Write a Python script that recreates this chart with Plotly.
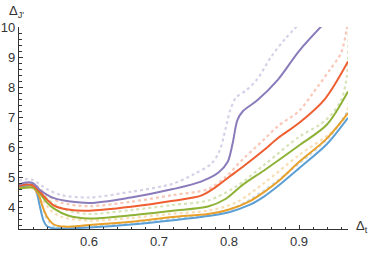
import plotly.graph_objects as go

# ---- data ----
blue_x = [0.5, 0.51, 0.518, 0.525, 0.53, 0.535, 0.54, 0.55, 0.57, 0.6, 0.66, 0.72, 0.77, 0.80, 0.83, 0.85, 0.87, 0.9, 0.94, 0.97]
blue_y = [4.65, 4.72, 4.75, 4.5, 4.0, 3.55, 3.36, 3.29, 3.29, 3.32, 3.42, 3.56, 3.7, 3.83, 4.08, 4.35, 4.7, 5.29, 6.1, 6.97]

orange_x = [0.5, 0.51, 0.52, 0.528, 0.534, 0.54, 0.55, 0.565, 0.6, 0.66, 0.72, 0.77, 0.80, 0.83, 0.85, 0.87, 0.9, 0.94, 0.97]
orange_y = [4.62, 4.65, 4.65, 4.4, 4.0, 3.68, 3.42, 3.35, 3.4, 3.51, 3.67, 3.77, 3.92, 4.2, 4.5, 4.85, 5.5, 6.29, 7.13]

green_x = [0.5, 0.51, 0.52, 0.53, 0.54, 0.55, 0.57, 0.6, 0.66, 0.72, 0.77, 0.795, 0.82, 0.85, 0.9, 0.94, 0.97]
green_y = [4.6, 4.65, 4.65, 4.45, 4.15, 3.95, 3.72, 3.62, 3.73, 3.88, 4.02, 4.27, 4.75, 5.22, 6.05, 6.75, 7.85]

red_x = [0.5, 0.51, 0.52, 0.53, 0.54, 0.55, 0.57, 0.6, 0.66, 0.72, 0.76, 0.78, 0.80, 0.823, 0.85, 0.87, 0.9, 0.937, 0.97]
red_y = [4.7, 4.75, 4.72, 4.5, 4.25, 4.05, 3.92, 3.88, 4.01, 4.21, 4.38, 4.65, 5.0, 5.4, 5.9, 6.3, 6.8, 7.6, 8.85]

purple_x = [0.5, 0.51, 0.52, 0.53, 0.55, 0.6, 0.66, 0.72, 0.76, 0.785, 0.798, 0.805, 0.812, 0.82, 0.84, 0.87, 0.9, 0.935]
purple_y = [4.75, 4.82, 4.8, 4.57, 4.3, 4.14, 4.32, 4.6, 4.85, 5.15, 5.5, 6.1, 6.9, 7.2, 7.55, 8.25, 9.2, 10.1]

blue_d_x = [0.5, 0.51, 0.52, 0.53, 0.54, 0.55, 0.6, 0.66, 0.72, 0.77, 0.81, 0.85, 0.9, 0.944, 0.97]
blue_d_y = [4.7, 4.75, 4.75, 4.3, 3.6, 3.37, 3.38, 3.48, 3.62, 3.75, 4.0, 4.55, 5.45, 6.35, 7.2]

orange_d_x = [0.5, 0.51, 0.52, 0.53, 0.545, 0.56, 0.6, 0.66, 0.72, 0.77, 0.81, 0.85, 0.9, 0.944, 0.966, 0.972]
orange_d_y = [4.6, 4.65, 4.62, 4.35, 3.9, 3.68, 3.55, 3.64, 3.78, 3.88, 4.15, 4.8, 5.73, 6.45, 7.0, 7.6]

green_d_x = [0.5, 0.51, 0.52, 0.535, 0.55, 0.57, 0.6, 0.66, 0.72, 0.77, 0.81, 0.85, 0.9, 0.93, 0.945, 0.96, 0.968, 0.971]
green_d_y = [4.62, 4.68, 4.68, 4.4, 4.1, 3.88, 3.77, 3.9, 4.07, 4.22, 4.68, 5.4, 6.34, 6.75, 7.05, 7.55, 8.3, 9.8]

red_d_x = [0.5, 0.51, 0.52, 0.54, 0.56, 0.6, 0.66, 0.72, 0.77, 0.795, 0.82, 0.85, 0.87, 0.9, 0.92, 0.944, 0.96, 0.968, 0.972]
red_d_y = [4.75, 4.8, 4.78, 4.4, 4.15, 4.03, 4.18, 4.4, 4.6, 5.0, 5.6, 6.25, 6.7, 7.2, 7.8, 8.57, 9.13, 9.9, 10.5]

purple_d_x = [0.5, 0.51, 0.52, 0.54, 0.56, 0.6, 0.66, 0.72, 0.75, 0.775, 0.787, 0.795, 0.802, 0.81, 0.825, 0.84, 0.86, 0.88, 0.9]
purple_d_y = [4.88, 4.93, 4.9, 4.6, 4.4, 4.32, 4.51, 4.78, 5.1, 5.45, 5.9, 6.6, 7.25, 7.65, 7.9, 8.25, 9.0, 9.6, 10.1]

x_ticks = [0.6, 0.7, 0.8, 0.9]
y_ticks = [4, 5, 6, 7, 8, 9, 10]

colors = {
    "blue": "#5B9FD5",
    "orange": "#E8A02A",
    "green": "#8DB236",
    "red": "#EE5E30",
    "purple": "#8A7BBA",
}

fig = go.Figure()

dashed = [
    (blue_d_x, blue_d_y, "blue"),
    (orange_d_x, orange_d_y, "orange"),
    (green_d_x, green_d_y, "green"),
    (red_d_x, red_d_y, "red"),
    (purple_d_x, purple_d_y, "purple"),
]
for xs, ys, c in dashed:
    fig.add_trace(go.Scatter(x=xs, y=ys, mode="lines", opacity=0.35,
                             line=dict(color=colors[c], width=2.2, dash="3px,3px",
                                       shape="spline", smoothing=0.85),
                             showlegend=False, hoverinfo="skip"))

solid = [
    (blue_x, blue_y, "blue"),
    (orange_x, orange_y, "orange"),
    (green_x, green_y, "green"),
    (red_x, red_y, "red"),
    (purple_x, purple_y, "purple"),
]
for xs, ys, c in solid:
    fig.add_trace(go.Scatter(x=xs, y=ys, mode="lines",
                             line=dict(color=colors[c], width=2,
                                       shape="spline", smoothing=0.85),
                             showlegend=False, hoverinfo="skip"))

axis_color = "#333333"
tick_font = dict(family="Liberation Sans, Arial, sans-serif", size=13, color="#333333")
fig.update_xaxes(range=[0.5, 0.97], tickvals=x_ticks, ticktext=[str(v) for v in x_ticks],
                 showline=True, linecolor=axis_color, linewidth=1.2,
                 ticks="inside", ticklen=4, tickwidth=1, tickcolor=axis_color,
                 minor=dict(ticks="inside", dtick=0.02, tick0=0.5, ticklen=2.5,
                            tickcolor=axis_color, showgrid=False),
                 showgrid=False, zeroline=False, automargin=False,
                 tickfont=tick_font)
fig.update_yaxes(range=[3.27, 10], tickvals=y_ticks, ticktext=[str(v) for v in y_ticks],
                 showline=True, linecolor=axis_color, linewidth=1.2,
                 ticks="inside", ticklen=4, tickwidth=1, tickcolor=axis_color,
                 minor=dict(ticks="inside", dtick=0.2, tick0=0, ticklen=2.5,
                            tickcolor=axis_color, showgrid=False),
                 showgrid=False, zeroline=False, automargin=False,
                 tickfont=tick_font)

fig.add_annotation(text="Δ<sub>J'</sub>", xref="paper", yref="paper",
                   x=-0.035, y=1.13, xanchor="left", yanchor="top", showarrow=False,
                   font=dict(family="Liberation Sans, Arial, sans-serif", size=13, color="#333333"))
fig.add_annotation(text="Δ<sub>t</sub>", xref="paper", yref="paper",
                   x=1.018, y=0.01, xanchor="left", yanchor="middle", showarrow=False,
                   font=dict(family="Liberation Sans, Arial, sans-serif", size=13, color="#333333"))

fig.update_layout(width=374, height=254, margin=dict(l=19, r=26, t=27, b=25, autoexpand=False),
                  plot_bgcolor="white", paper_bgcolor="white")

fig.write_html("out.html", config={"displayModeBar": False, "staticPlot": True},
               post_script="document.body.style.margin='0';document.body.style.overflow='hidden';")
